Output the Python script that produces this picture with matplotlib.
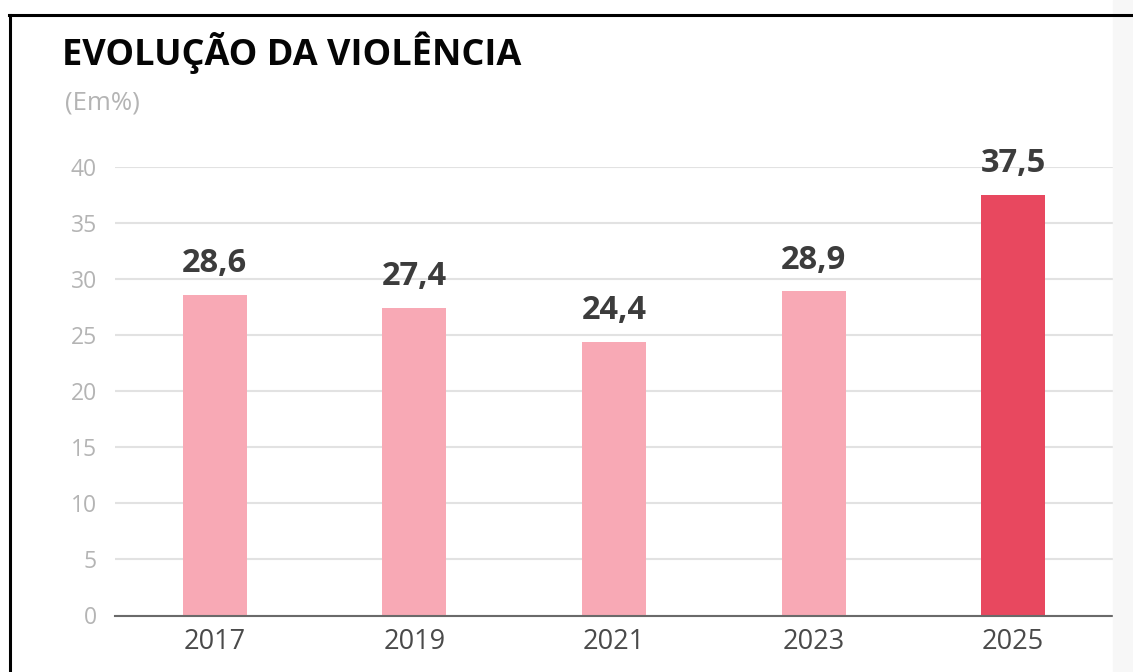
import numpy as np
import matplotlib.pyplot as plt
from matplotlib.lines import Line2D
from matplotlib.patches import Rectangle

plt.rcParams['font.family'] = ['Open Sans', 'DejaVu Sans']

anos = ['2017', '2019', '2021', '2023', '2025']
valores = [28.6, 27.4, 24.4, 28.9, 37.5]
rotulos = ['28,6', '27,4', '24,4', '28,9', '37,5']
cores = ['#f8a9b5', '#f8a9b5', '#f8a9b5', '#f8a9b5', '#e8485f']
yticks = [0, 5, 10, 15, 20, 25, 30, 35, 40]

fig = plt.figure(figsize=(11.33, 6.72), dpi=100)

# faixa cinza à direita e moldura preta (captura de tela)
fig.patches.append(Rectangle((1113 / 1133, 0), 20 / 1133, 1, transform=fig.transFigure,
                             color='#f7f7f7', zorder=0))
fig.lines.append(Line2D([9 / 1133, 1], [1 - 15 / 672, 1 - 15 / 672], transform=fig.transFigure,
                        color='black', lw=2.2))
fig.lines.append(Line2D([9.5 / 1133, 9.5 / 1133], [0, 1 - 15 / 672], transform=fig.transFigure,
                        color='black', lw=2.2))

ax = fig.add_axes([115 / 1133, 1 - 615.5 / 672, 998 / 1133, 448.5 / 672])

x = np.arange(len(anos))
ax.bar(x, valores, width=0.32, color=cores, zorder=3)

for xi, v, r in zip(x, valores, rotulos):
    ax.annotate(r, (xi, v), xytext=(0, 16.5), textcoords='offset points',
                ha='center', va='baseline', fontsize=23.5, fontweight='bold',
                color='#3c3c3c', annotation_clip=False)

ax.set_xlim(-0.5, 4.5)
ax.set_ylim(0, 40)
ax.set_xticks(x)
ax.set_xticklabels(anos, fontsize=19.5, color='#4a4a4a')
ax.set_yticks(yticks)
ax.set_yticklabels([str(t) for t in yticks], fontsize=16.5, color='#b4b4b4')
ax.tick_params(axis='both', length=0)
ax.tick_params(axis='y', pad=13)
ax.tick_params(axis='x', pad=9)

ax.grid(axis='y', color='#e2e2e2', lw=1.5, zorder=0)
for s in ['top', 'right', 'left']:
    ax.spines[s].set_visible(False)
ax.spines['bottom'].set_color('#6a6a6a')
ax.spines['bottom'].set_linewidth(1.5)
ax.spines['bottom'].set_zorder(4)

fig.text(62 / 1133, 1 - 65 / 672, 'EVOLUÇÃO DA VIOLÊNCIA', fontsize=26, fontweight='bold',
         color='#050505', ha='left', va='baseline')
fig.text(65 / 1133, 1 - 110 / 672, '(Em%)', fontsize=18.5, color='#b4b4b4',
         ha='left', va='baseline')

fig.savefig('out.png', dpi=100)
